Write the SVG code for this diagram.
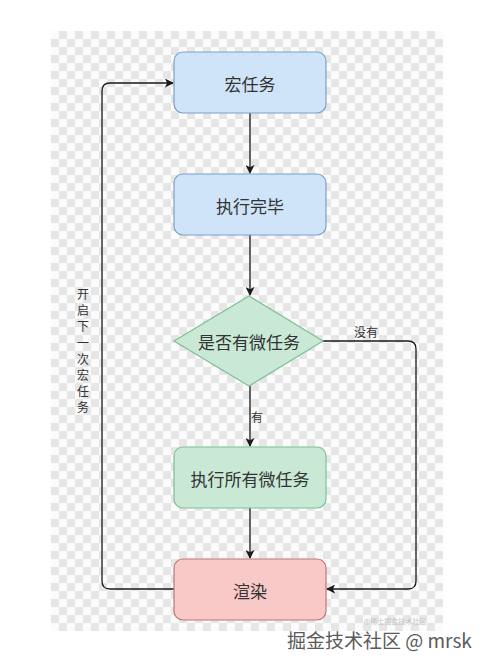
<svg xmlns="http://www.w3.org/2000/svg" width="491" height="670" viewBox="0 0 491 670">
<defs>
<pattern id="checker" x="51" y="31" width="16" height="16" patternUnits="userSpaceOnUse">
<rect width="16" height="16" fill="#fbfbfb"/>
<rect x="8" y="0" width="8" height="8" fill="#e6e6e6"/>
<rect x="0" y="8" width="8" height="8" fill="#e6e6e6"/>
</pattern>
<marker id="arrow" viewBox="0 0 10 10" refX="9" refY="5" markerWidth="9" markerHeight="9" markerUnits="userSpaceOnUse" orient="auto">
<path d="M0,0 L10,5 L0,10 L2.5,5 Z" fill="#1a1a1a"/>
</marker>
<style>
.txt{font-family:"Noto Sans CJK SC","Noto Sans",sans-serif;font-size:17px;fill:#333;text-anchor:middle;dominant-baseline:central}
.lbl{font-family:"Noto Sans CJK SC","Noto Sans",sans-serif;font-size:12px;fill:#333;text-anchor:middle;dominant-baseline:central}
.blue{fill:#cfe4f8;stroke:#7d9fc9;stroke-width:1.2}
.green{fill:#c9e9d6;stroke:#7fbf95;stroke-width:1.2}
.red{fill:#f9c9c8;stroke:#c07774;stroke-width:1.2}
.edge{fill:none;stroke:#1a1a1a;stroke-width:1.3;marker-end:url(#arrow)}
</style>
</defs>
<rect width="491" height="670" fill="#ffffff"/>
<rect x="51" y="31" width="392" height="600" fill="url(#checker)"/>

<g id="connectors">
<path class="edge" d="M250,113 L250,173"/>
<path class="edge" d="M250,235 L250,295"/>
<path class="edge" d="M250,386 L250,446"/>
<path class="edge" d="M250,508 L250,558"/>
<path class="edge" d="M323,341 L408,341 Q416,341 416,349 L416,581 Q416,589 408,589 L327,589"/>
<path class="edge" d="M174,589 L110,589 Q102,589 102,581 L102,91 Q102,83 110,83 L173,83"/>
<text class="lbl" x="257" y="416">有</text>
<text class="lbl" x="366" y="331">没有</text>
<g class="lbl">
<text class="lbl" x="83" y="293">开</text>
<text class="lbl" x="83" y="309">启</text>
<text class="lbl" x="83" y="325">下</text>
<text class="lbl" x="83" y="342">一</text>
<text class="lbl" x="83" y="358">次</text>
<text class="lbl" x="83" y="374">宏</text>
<text class="lbl" x="83" y="390">任</text>
<text class="lbl" x="83" y="406">务</text>
</g>
</g>

<g id="macro">
<rect class="blue" x="174" y="52" width="152" height="61" rx="9"/>
<text class="txt" x="250" y="83">宏任务</text>
</g>
<g id="done">
<rect class="blue" x="174" y="174" width="152" height="61" rx="9"/>
<text class="txt" x="250" y="205">执行完毕</text>
</g>
<g id="decision">
<polygon class="green" points="249,296 323,341 249,386 174,341"/>
<text class="txt" x="249" y="341">是否有微任务</text>
</g>
<g id="micro">
<rect class="green" x="174" y="447" width="152" height="61" rx="9"/>
<text class="txt" x="250" y="478">执行所有微任务</text>
</g>
<g id="render">
<rect class="red" x="174" y="559" width="152" height="61" rx="9"/>
<text class="txt" x="250" y="590">渲染</text>
</g>

<text x="395" y="624" font-family="Noto Sans CJK SC, sans-serif" font-size="7" fill="#c4c4c4" text-anchor="middle">@稀土掘金技术社区</text>
<text x="287" y="648" font-family="Noto Sans CJK SC, Noto Sans, sans-serif" font-size="19" fill="#5a5a5a">掘金技术社区 @ mrsk</text>
</svg>
